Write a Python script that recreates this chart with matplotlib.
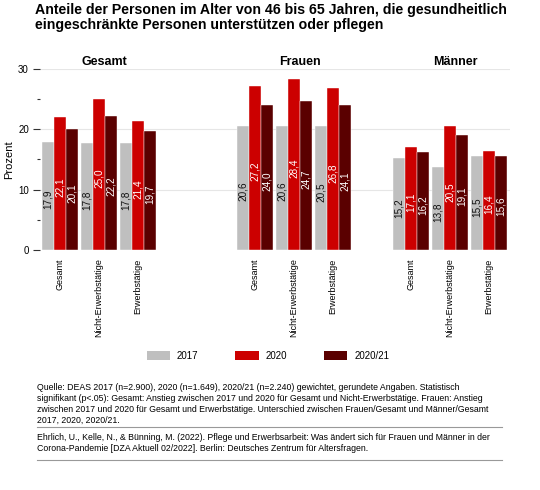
import numpy as np
import matplotlib
matplotlib.use("Agg")
import matplotlib.pyplot as plt
from matplotlib.patches import Patch
from matplotlib.lines import Line2D

plt.rcParams['font.family'] = ['Liberation Sans', 'DejaVu Sans']

groups = ['Gesamt', 'Frauen', 'Männer']
categories = ['Gesamt', 'Nicht-Erwerbstätige', 'Erwerbstätige']
years = ['2017', '2020', '2020/21']
values_2017 = [17.9, 17.8, 17.8, 20.6, 20.6, 20.5, 15.2, 13.8, 15.5]
values_2020 = [22.1, 25.0, 21.4, 27.2, 28.4, 26.8, 17.1, 20.5, 16.4]
values_2021 = [20.1, 22.2, 19.7, 24.0, 24.7, 24.1, 16.2, 19.1, 15.6]
colors = ['#bfbfbf', '#cc0000', '#5a0000']
label_colors = ['#111111', 'white', 'white']

title = ("Anteile der Personen im Alter von 46 bis 65 Jahren, die gesundheitlich\n"
         "eingeschränkte Personen unterstützen oder pflegen")
source = ("Quelle: DEAS 2017 (n=2.900), 2020 (n=1.649), 2020/21 (n=2.240) gewichtet, gerundete Angaben. Statistisch\n"
          "signifikant (p<.05): Gesamt: Anstieg zwischen 2017 und 2020 für Gesamt und Nicht-Erwerbstätige. Frauen: Anstieg\n"
          "zwischen 2017 und 2020 für Gesamt und Erwerbstätige. Unterschied zwischen Frauen/Gesamt und Männer/Gesamt\n"
          "2017, 2020, 2020/21.")
citation = ("Ehrlich, U., Kelle, N., & Bünning, M. (2022). Pflege und Erwerbsarbeit: Was ändert sich für Frauen und Männer in der\n"
            "Corona-Pandemie [DZA Aktuell 02/2022]. Berlin: Deutsches Zentrum für Altersfragen.")

W, H = 540, 490
fig = plt.figure(figsize=(W/100, H/100), dpi=100)
ax = fig.add_axes([40/W, 1-250/H, (510-40)/W, (250-69)/H])

# x positions: 3 categories per group, gaps between groups
group_start = [0, 5, 9]
pos = np.array([s + i for s in group_start for i in range(len(categories))])
bw = 0.31
series = [values_2017, values_2020, values_2021]
for k, vals in enumerate(series):
    xs = pos + (k-1)*bw
    ax.bar(xs, vals, width=bw, color=colors[k], edgecolor='white', linewidth=0.3, zorder=2)
    for x, v in zip(xs, vals):
        ax.text(x, v/2 - 0.6, f"{v:.1f}".replace('.', ','), rotation=90,
                ha='center', va='center', fontsize=7.2, color=label_colors[k], zorder=3)

for g, s in zip(groups, group_start):
    ax.text(s+1.15, 30.6, g, ha='center', va='baseline', fontsize=9, fontweight='bold')

ax.set_xlim((40-60)/39, (510-60)/39)
ax.set_ylim(0, 30)
ax.set_xticks(pos)
ax.set_xticklabels(categories*3, rotation=90, fontsize=6.5, va='top')
ax.tick_params(axis='x', length=0, pad=6)
ax.set_yticks([0, 10, 20, 30])
ax.set_yticks([5, 15, 25], minor=True)
ax.tick_params(axis='y', which='major', length=5, width=0.8, labelsize=7, pad=3, color='#333333')
ax.tick_params(axis='y', which='minor', length=2.5, width=0.8, color='#333333')
for sp in ax.spines.values():
    sp.set_visible(False)
for yv in [10, 20, 30]:
    ax.axhline(yv, color='#e6e6e6', linewidth=0.8, zorder=1)
ax.set_ylabel('Prozent', fontsize=8)
ax.yaxis.set_label_coords(-(40-14)/470, 0.5)

fig.text(35/W, 1-3/H, title, ha='left', va='top', fontsize=10.2, fontweight='bold', linespacing=1.1)

handles = [Patch(facecolor=c, edgecolor='none') for c in colors]
fig.legend(handles, years, loc='center', bbox_to_anchor=(268/W, 1-356/H), ncol=3, frameon=False,
           fontsize=7, handlelength=2.4, handleheight=1.0, handletextpad=0.7, columnspacing=3.8)

fig.text(37/W, 1-383/H, source, ha='left', va='top', fontsize=6.3, linespacing=1.28)
fig.add_artist(Line2D([37/W, 502/W], [1-427/H, 1-427/H], color='#999999', linewidth=0.8))
fig.text(37/W, 1-433/H, citation, ha='left', va='top', fontsize=6.3, linespacing=1.28)
fig.add_artist(Line2D([37/W, 502/W], [1-460/H, 1-460/H], color='#999999', linewidth=0.8))

fig.savefig('out.png', dpi=100)
